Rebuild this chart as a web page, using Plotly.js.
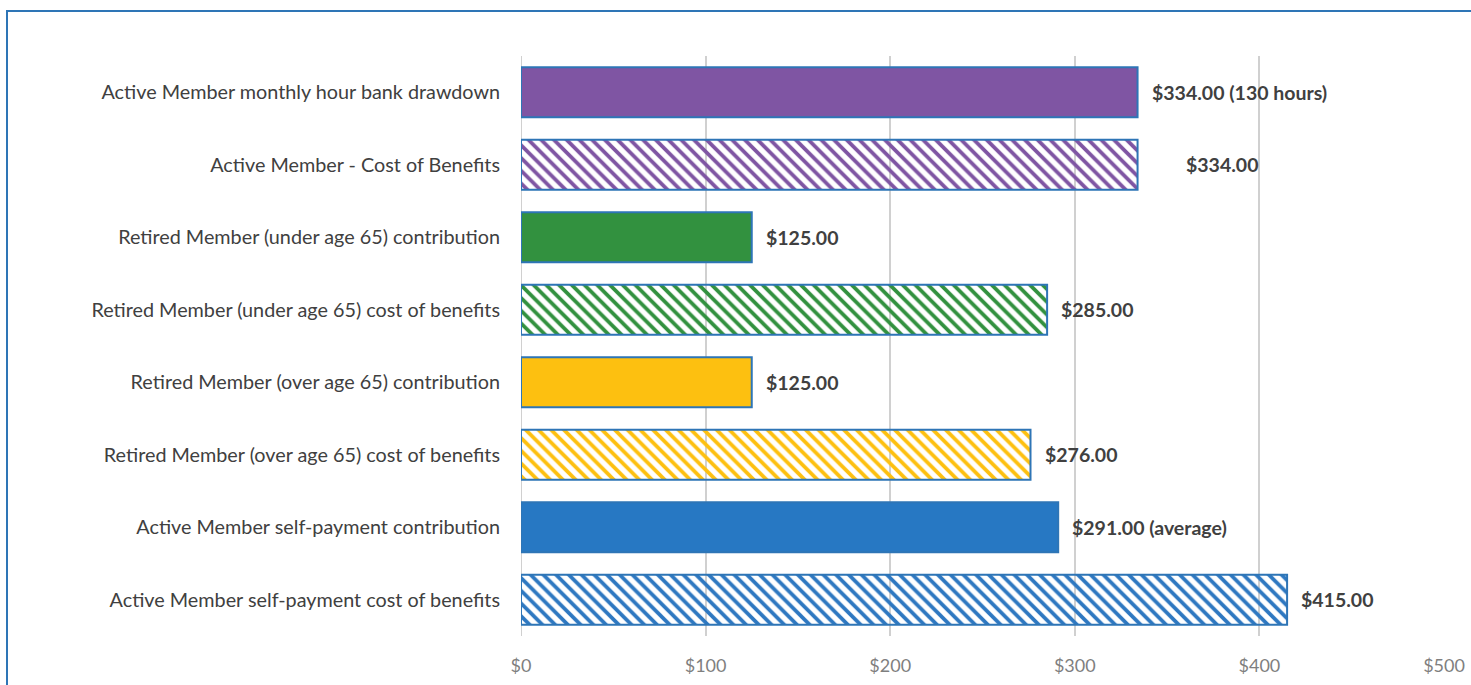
<!DOCTYPE html>
<html>
<head>
<meta charset="utf-8">
<script src="https://cdn.plot.ly/plotly-3.0.1.min.js"></script>
<style>
html,body{margin:0;padding:0;background:#fff;overflow:hidden;}
#frame{position:absolute;left:6px;top:10px;width:1600px;height:800px;border-left:2.5px solid #2e75b6;border-top:2.5px solid #2e75b6;pointer-events:none;z-index:5;}
#chart{position:absolute;left:0;top:0;width:1471px;height:685px;}
</style>
</head>
<body>
<div id="chart"></div>
<div id="frame"></div>
<script>
// Data (bottom to top as drawn by the axis)
const categories = [
  "Active Member self-payment cost of benefits",
  "Active Member self-payment contribution",
  "Retired Member (over age 65) cost of benefits",
  "Retired Member (over age 65) contribution",
  "Retired Member (under age 65) cost of benefits",
  "Retired Member (under age 65) contribution",
  "Active Member - Cost of Benefits",
  "Active Member monthly hour bank drawdown"
];
const values = [415, 291, 276, 125, 285, 125, 334, 334];
const valueLabels = [
  "$415.00", "$291.00 (average)", "$276.00", "$125.00",
  "$285.00", "$125.00", "$334.00", "$334.00 (130 hours)"
];
const barColors = ["#2e78c1", "#2778c3", "#fdc010", "#fdc010", "#32913f", "#32913f", "#7f55a3", "#7f55a3"];
const hatched = [true, false, true, false, true, false, true, false];
const tickVals = [0, 100, 200, 300, 400, 500];
const tickText = ["$0", "$100", "$200", "$300", "$400", "$500"];
const labelOffsets = [12, 12, 12, 12, 12, 12, 46, 12];

const FONT = "Lato, 'Open Sans', sans-serif";

const trace = {
  type: "bar",
  orientation: "h",
  y: categories,
  x: values,
  width: 0.69,
  marker: {
    color: barColors,
    line: {color: "#2e75b6", width: 2},
    pattern: {
      shape: hatched.map(h => h ? "\\" : ""),
      bgcolor: "#ffffff",
      fillmode: "replace",
      size: 9,
      solidity: 0.42
    }
  },
  hoverinfo: "none",
  cliponaxis: false
};

const annotations = categories.map((c, i) => ({
  x: values[i], y: c, xref: "x", yref: "y",
  text: "<b>" + valueLabels[i] + "</b>",
  showarrow: false, xanchor: "left", yanchor: "middle",
  xshift: labelOffsets[i],
  font: {family: FONT, size: 19.5, color: "#404040"}
}));

const layout = {
  width: 1471, height: 685,
  margin: {l: 521, r: 27, t: 56, b: 49},
  paper_bgcolor: "#ffffff",
  plot_bgcolor: "#ffffff",
  showlegend: false,
  font: {family: FONT, color: "#404040"},
  xaxis: {
    range: [0, 500],
    tickvals: tickVals,
    ticktext: tickText,
    showgrid: true,
    gridcolor: "#d0d0d0",
    gridwidth: 2,
    zeroline: false,
    showline: false,
    ticks: "",
    ticklabelstandoff: 17,
    tickfont: {family: FONT, size: 18, color: "#7f7f7f"},
    fixedrange: true
  },
  yaxis: {
    type: "category",
    categoryorder: "array",
    categoryarray: categories,
    range: [-0.5, 7.5],
    showgrid: false,
    zeroline: false,
    showline: false,
    ticks: "",
    ticklabelstandoff: 20,
    tickfont: {family: FONT, size: 19.8, color: "#404040"},
    fixedrange: true
  },
  shapes: [{
    type: "line", xref: "x", yref: "paper",
    x0: 0, x1: 0, y0: 0, y1: 1,
    line: {color: "#d0d0d0", width: 2},
    layer: "below"
  }],
  annotations: annotations
};

Plotly.newPlot("chart", [trace], layout, {displayModeBar: false, staticPlot: true});
</script>
</body>
</html>
